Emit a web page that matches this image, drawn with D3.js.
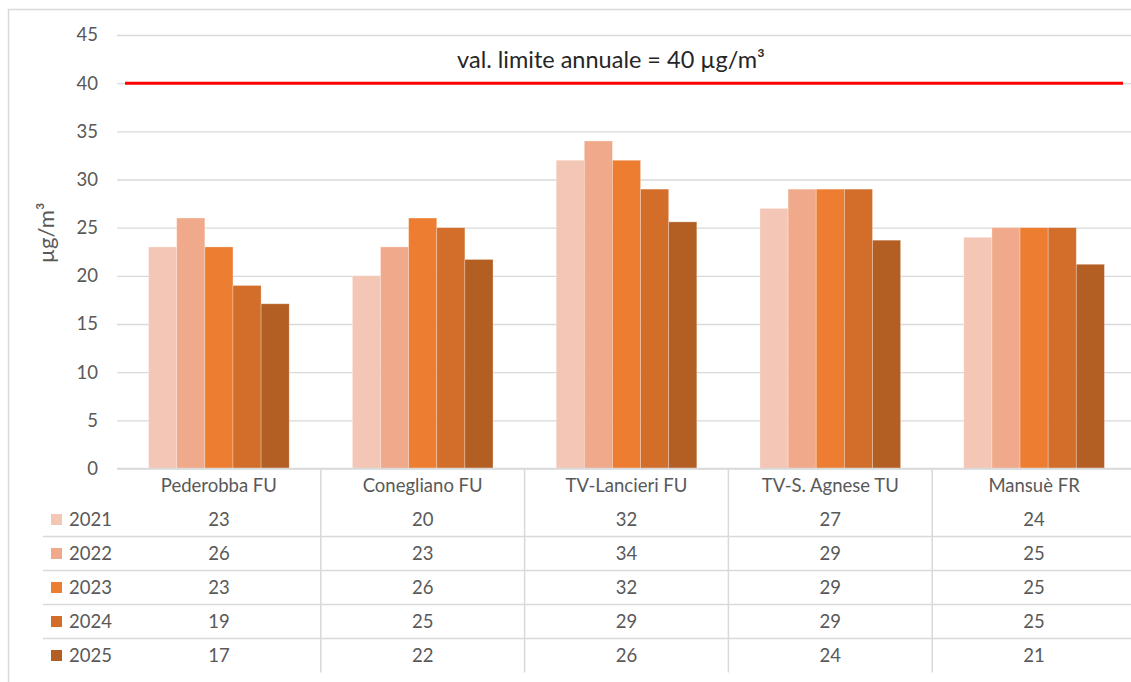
<!DOCTYPE html>
<html><head><meta charset="utf-8">
<script src="https://cdn.jsdelivr.net/npm/d3@7"></script>
<style>
html,body{margin:0;padding:0;background:#fff;}
svg{display:block;font-family:Lato, "Open Sans", sans-serif;}
</style></head>
<body><svg id="c" width="1131" height="682"></svg>
<script>
const categories = ["Pederobba FU","Conegliano FU","TV-Lancieri FU","TV-S. Agnese TU","Mansuè FR"];
const years = ["2021","2022","2023","2024","2025"];
const v2021 = [23,20,32,27,24];
const v2022 = [26,23,34,29,25];
const v2023 = [23,26,32,29,25];
const v2024 = [19,25,29,29,25];
const v2025 = [17.1,21.7,25.6,23.7,21.2];
const yTicks = [0,5,10,15,20,25,30,35,40,45];
const limitValue = 40;
const limitLabel = "val. limite annuale = 40 µg/m³";
const yTitle = "µg/m³";
const colors = ["#F4C6B5","#F0A98A","#ED7D31","#D26D2A","#B35E22"];

const series = [v2021,v2022,v2023,v2024,v2025];
const svg = d3.select("#c");
const textCol = "#595959";
const gridCol = "#D9D9D9";
const fs = "18.5px";

// outer border
svg.append("rect").attr("x",8.5).attr("y",9.5).attr("width",1140).attr("height",700)
  .attr("fill","none").attr("stroke",gridCol).attr("stroke-width",1.5);

const left = 117, step = 203.8;
const x0 = d3.scaleBand().domain(categories).range([left, left+step*categories.length]).padding(0);
const bw = x0.bandwidth();
const x1 = d3.scaleBand().domain(years).range([bw*0.155, bw*0.845]).padding(0);
const y = d3.scaleLinear().domain([0,45]).range([468.5, 35]);

// gridlines + y labels
const yAxis = d3.axisLeft(y).tickValues(yTicks).tickSize(-(x0.range()[1]-left)).tickPadding(19);
const ga = svg.append("g").attr("transform",`translate(${left},0)`).call(yAxis);
ga.select(".domain").remove();
ga.selectAll(".tick line").attr("stroke",gridCol).attr("stroke-width",1.3);
ga.selectAll(".tick text").attr("fill",textCol).style("font-size",fs).style("font-family","Lato, sans-serif");

// y title
svg.append("text").attr("transform",`translate(54,233) rotate(-90)`).attr("text-anchor","middle")
  .attr("fill",textCol).style("font-size","22px").text(yTitle);

// bars
const gBars = svg.append("g");
categories.forEach((c,ci)=>{
  years.forEach((yr,yi)=>{
    const v = series[yi][ci];
    gBars.append("rect")
      .attr("x", x0(c)+x1(yr)).attr("width", x1.bandwidth())
      .attr("y", y(v)).attr("height", y(0)-y(v))
      .attr("fill", colors[yi]).attr("stroke","#fff").attr("stroke-opacity",0.35).attr("stroke-width",0.8);
  });
});

// limit line
const limitLine = d3.line().x(d=>d[0]).y(d=>y(d[1]));
svg.append("path").attr("d", limitLine([[left+8, limitValue],[x0.range()[1]-13, limitValue]]))
  .attr("stroke","#FF0000").attr("stroke-width",3).attr("fill","none");
svg.append("text").attr("x",611).attr("y",68).attr("text-anchor","middle")
  .attr("fill","#262626").style("font-size","23.5px").text(limitLabel);

// table
const tTop = y(0), rowH = 34;
const gt = svg.append("g");
gt.append("line").attr("x1",left).attr("x2",1140).attr("y1",tTop).attr("y2",tTop).attr("stroke",gridCol).attr("stroke-width",1.5);
categories.slice(1).forEach(c=>{
  gt.append("line").attr("x1",x0(c)).attr("x2",x0(c)).attr("y1",tTop).attr("y2",tTop+rowH*6).attr("stroke",gridCol).attr("stroke-width",1.5);
});
for(let r=2;r<=5;r++){
  gt.append("line").attr("x1",43).attr("x2",1140).attr("y1",tTop+rowH*r).attr("y2",tTop+rowH*r).attr("stroke",gridCol).attr("stroke-width",1.5);
}
categories.forEach(c=>{
  gt.append("text").attr("x",x0(c)+bw/2).attr("y",tTop+rowH*0.5).attr("dy","0.35em").attr("text-anchor","middle")
    .attr("fill",textCol).style("font-size",fs).text(c);
});
years.forEach((yr,yi)=>{
  const cy = tTop+rowH*(yi+1.5);
  gt.append("rect").attr("x",51).attr("y",cy-5.5).attr("width",11).attr("height",11).attr("fill",colors[yi]);
  gt.append("text").attr("x",69).attr("y",cy).attr("dy","0.35em").attr("fill",textCol).style("font-size",fs).text(yr);
  categories.forEach((c,ci)=>{
    gt.append("text").attr("x",x0(c)+bw/2).attr("y",cy).attr("dy","0.35em").attr("text-anchor","middle")
      .attr("fill",textCol).style("font-size",fs).text(d3.format(".0f")(series[yi][ci]));
  });
});
</script></body></html>
